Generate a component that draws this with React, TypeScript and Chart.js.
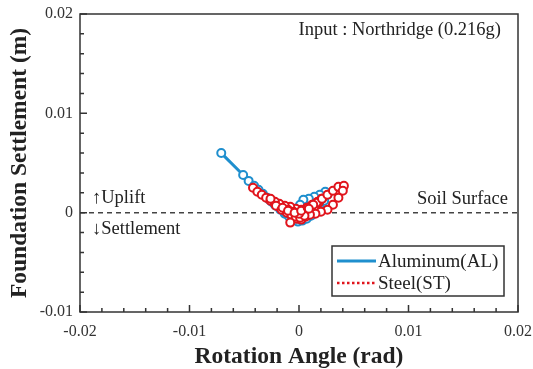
import React, { useEffect, useRef } from 'react';
import { Chart, registerables } from 'chart.js';
Chart.register(...registerables);

const alX = [-0.0071, -0.0051, -0.0046, -0.0041, -0.0037, -0.0033, -0.0029, -0.0025, -0.0021, -0.0017, -0.0013, -0.0009, -0.0005, -0.0001, 0.0003, 0.0007, 0.0011, 0.0015, 0.0019, 0.0023, 0.0026, 0.0024, 0.0019, 0.0014, 0.0009, 0.0004, 0.0001, -0.0003, -0.0008, -0.0013, -0.0018, -0.0023, -0.0027, -0.0022, -0.0017, -0.0012, -0.0007, -0.0002, 0.0003, 0.0008, 0.0013, 0.0018, 0.0021, 0.0016, 0.0011, 0.0006, 0.0001, -0.0004, -0.0009, -0.0005, 0.0000, 0.0005, 0.0009, 0.0004];
const alY = [0.0060, 0.0038, 0.0032, 0.0027, 0.0023, 0.0019, 0.0015, 0.0011, 0.0007, 0.0003, -0.0001, -0.0004, -0.0007, -0.0009, -0.0008, -0.0006, -0.0003, 0.0001, 0.0006, 0.0012, 0.0018, 0.0021, 0.0018, 0.0016, 0.0014, 0.0013, 0.0008, 0.0004, 0.0002, 0.0003, 0.0006, 0.0010, 0.0013, 0.0008, 0.0004, 0.0000, -0.0003, -0.0006, -0.0005, -0.0002, 0.0003, 0.0009, 0.0014, 0.0010, 0.0006, 0.0003, 0.0000, -0.0002, 0.0000, -0.0004, -0.0006, -0.0003, 0.0001, 0.0000];

const stX = [-0.0042, -0.0038, -0.0034, -0.0030, -0.0026, -0.0022, -0.0018, -0.0014, -0.0010, -0.0006, -0.0002, 0.0002, 0.0006, 0.0010, 0.0014, 0.0018, 0.0021, 0.0017, 0.0012, 0.0007, 0.0002, -0.0003, -0.0008, -0.0013, -0.0018, -0.0022, -0.0026, -0.0021, -0.0016, -0.0011, -0.0007, -0.0003, -0.0008, 0.0001, 0.0006, 0.0011, 0.0016, 0.0021, 0.0026, 0.0031, 0.0036, 0.0041, 0.0040, 0.0036, 0.0031, 0.0026, 0.0020, 0.0015, 0.0010, 0.0005, 0.0000, -0.0005, -0.0010, -0.0015, -0.0010, -0.0004, 0.0002, 0.0008, 0.0013, 0.0009];
const stY = [0.0025, 0.0021, 0.0018, 0.0015, 0.0012, 0.0009, 0.0006, 0.0003, 0.0000, -0.0003, -0.0006, -0.0007, -0.0004, 0.0000, 0.0005, 0.0010, 0.0014, 0.0011, 0.0008, 0.0005, 0.0003, 0.0004, 0.0006, 0.0007, 0.0009, 0.0011, 0.0014, 0.0007, 0.0003, 0.0000, -0.0002, -0.0004, -0.0010, -0.0005, -0.0001, 0.0004, 0.0010, 0.0014, 0.0018, 0.0022, 0.0026, 0.0027, 0.0022, 0.0015, 0.0008, 0.0003, 0.0001, -0.0001, -0.0002, -0.0003, -0.0001, 0.0001, 0.0003, 0.0005, 0.0002, 0.0000, 0.0002, 0.0005, 0.0008, 0.0004];

const seriesNames = ['Aluminum(AL)', 'Steel(ST)'];
const seriesColors = ['#1f8fce', '#e0141c'];
const xRange = [-0.02, 0.02];
const yRange = [-0.01, 0.02];
const majorStep = 0.01;
const minorStep = 0.002;

const SERIF = '"Liberation Serif", "Times New Roman", serif';

const decoPlugin = {
  id: 'deco',
  beforeDatasetsDraw(chart: any) {
    const { ctx, chartArea: a, scales } = chart;
    const y0 = scales.y.getPixelForValue(0);
    ctx.save();
    ctx.strokeStyle = '#444';
    ctx.lineWidth = 1.5;
    ctx.setLineDash([5, 4]);
    ctx.beginPath();
    ctx.moveTo(a.left, y0);
    ctx.lineTo(a.right, y0);
    ctx.stroke();
    ctx.setLineDash([]);
    ctx.fillStyle = '#222';
    ctx.font = '18.5px ' + SERIF;
    ctx.textBaseline = 'middle';
    ctx.textAlign = 'left';
    ctx.fillText('\u2191Uplift', a.left + 12, y0 - 15);
    ctx.fillText('\u2193Settlement', a.left + 12, y0 + 16);
    ctx.textAlign = 'right';
    ctx.fillText('Soil Surface', a.right - 10, y0 - 14);
    ctx.fillText('Input : Northridge (0.216g)', a.right - 17, a.top + 16);
    ctx.restore();
  },
  afterDraw(chart: any) {
    const { ctx, chartArea: a, scales } = chart;
    ctx.save();
    ctx.strokeStyle = '#333';
    ctx.lineWidth = 1.5;
    ctx.strokeRect(a.left, a.top, a.right - a.left, a.bottom - a.top);
    ctx.beginPath();
    const per = Math.round(majorStep / minorStep);
    const nx = Math.round((xRange[1] - xRange[0]) / minorStep);
    for (let i = 0; i <= nx; i++) {
      const v = xRange[0] + i * minorStep;
      const px = scales.x.getPixelForValue(v);
      ctx.moveTo(px, a.bottom);
      ctx.lineTo(px, a.bottom - (i % per === 0 ? 7 : 4));
    }
    const ny = Math.round((yRange[1] - yRange[0]) / minorStep);
    for (let i = 0; i <= ny; i++) {
      const v = yRange[0] + i * minorStep;
      const py = scales.y.getPixelForValue(v);
      ctx.moveTo(a.left, py);
      ctx.lineTo(a.left + (i % per === 0 ? 7 : 4), py);
    }
    ctx.stroke();
    // legend
    const lx = 332, ly = 246, lw = 172, lh = 50;
    ctx.fillStyle = '#fff';
    ctx.fillRect(lx, ly, lw, lh);
    ctx.strokeStyle = '#333';
    ctx.lineWidth = 1.5;
    ctx.strokeRect(lx, ly, lw, lh);
    ctx.font = '19px ' + SERIF;
    ctx.textBaseline = 'middle';
    ctx.textAlign = 'left';
    const rows = [ly + 15, ly + 37];
    chart.data.datasets.forEach((ds: any, i: number) => {
      ctx.strokeStyle = ds.borderColor;
      ctx.lineWidth = ds.borderWidth;
      ctx.setLineDash(ds.borderDash || []);
      ctx.beginPath();
      ctx.moveTo(lx + 5, rows[i]);
      ctx.lineTo(lx + 44, rows[i]);
      ctx.stroke();
      ctx.setLineDash([]);
      ctx.fillStyle = '#222';
      ctx.fillText(ds.label, lx + 46, rows[i] + 1);
    });
    ctx.restore();
  },
};

export default function App() {
  const ref = useRef<HTMLCanvasElement>(null);
  useEffect(() => {
    const fmt = (v: any) => (Math.abs(v) < 1e-9 ? '0' : Number(v).toFixed(2));
    const chart = new Chart(ref.current!, {
      type: 'scatter',
      data: {
        datasets: [
          {
            label: seriesNames[0],
            data: alX.map((x, i) => ({ x, y: alY[i] })),
            showLine: true,
            order: 1,
            borderColor: seriesColors[0],
            borderWidth: 3,
            pointRadius: 4,
            pointBorderWidth: 2,
            pointBackgroundColor: '#fff',
            pointBorderColor: seriesColors[0],
          },
          {
            label: seriesNames[1],
            data: stX.map((x, i) => ({ x, y: stY[i] })),
            showLine: true,
            order: 0,
            borderColor: seriesColors[1],
            borderWidth: 2.5,
            borderDash: [2.5, 2.5],
            pointRadius: 4,
            pointBorderWidth: 2,
            pointBackgroundColor: '#fff',
            pointBorderColor: seriesColors[1],
          },
        ],
      },
      options: {
        responsive: false,
        animation: false,
        layout: { padding: { left: 0, right: 15, top: 14, bottom: 0 } },
        plugins: { legend: { display: false }, tooltip: { enabled: false } },
        scales: {
          x: {
            type: 'linear',
            min: xRange[0],
            max: xRange[1],
            grid: { display: false, drawTicks: false },
            border: { display: false },
            ticks: {
              stepSize: majorStep,
              autoSkip: false,
              maxRotation: 0,
              padding: 10,
              color: '#333',
              font: { family: SERIF, size: 16 },
              callback: fmt,
            },
            title: {
              display: true,
              text: 'Rotation Angle (rad)',
              color: '#222',
              font: { family: SERIF, size: 23.5, weight: 'bold', lineHeight: 1.0 },
              padding: { top: 0, bottom: 0 },
            },
            afterFit: (s: any) => { s.height = 57; s.paddingLeft = 0; s.paddingRight = 0; },
          },
          y: {
            type: 'linear',
            min: yRange[0],
            max: yRange[1],
            grid: { display: false, drawTicks: false },
            border: { display: false },
            ticks: {
              stepSize: majorStep,
              autoSkip: false,
              padding: 7,
              color: '#333',
              font: { family: SERIF, size: 16 },
              callback: fmt,
            },
            title: {
              display: true,
              text: 'Foundation Settlement (m)',
              color: '#222',
              font: { family: SERIF, size: 23.5, weight: 'bold', lineHeight: 1.0 },
              padding: { top: 8, bottom: 0 },
            },
            afterFit: (s: any) => { s.width = 80; s.paddingTop = 0; s.paddingBottom = 0; },
          },
        },
      } as any,
      plugins: [decoPlugin],
    });
    return () => chart.destroy();
  }, []);
  return (
    <div style={{ position: 'absolute', left: 0, top: 0, width: 533, height: 369, background: '#fff' }}>
      <canvas ref={ref} width={533} height={369} />
    </div>
  );
}
